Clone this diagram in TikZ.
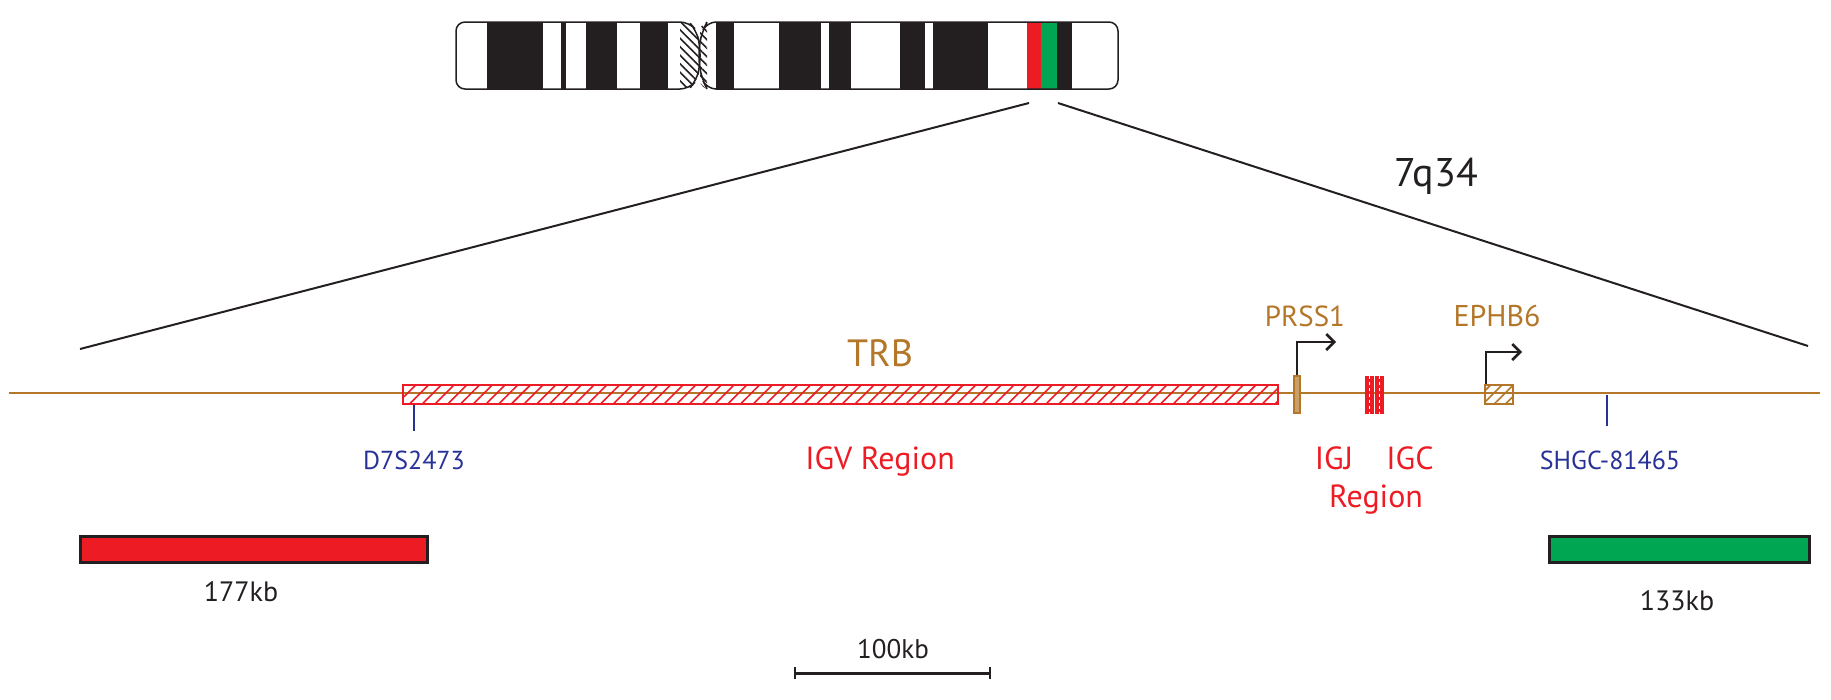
\documentclass[tikz,border=0pt]{standalone}
\usepackage{fontspec}
\setmainfont{PT Sans}
\usetikzlibrary{patterns.meta,arrows.meta}
\definecolor{brn}{RGB}{180,118,40}
\definecolor{rd}{RGB}{237,28,36}
\definecolor{gr}{RGB}{0,166,81}
\definecolor{bl}{RGB}{40,50,150}
\definecolor{blk}{RGB}{35,31,32}
\begin{document}
\begin{tikzpicture}[x=1pt,y=-1pt,
  lbl/.style={inner sep=0pt,anchor=base},
  zline/.style={draw=blk,line width=2pt},
  hatchr/.style={pattern={Lines[angle=45,distance=9pt,line width=1.6pt]},pattern color=rd},
  hatchb/.style={pattern={Lines[angle=45,distance=8pt,line width=1.6pt]},pattern color=brn},
  hatchk/.style={pattern={Lines[angle=-45,distance=6pt,line width=1.6pt]},pattern color=blk},
  tss/.style={draw=blk,line width=2.5pt,-{Straight Barb[length=8pt,width=16pt,line width=2.5pt]}}]
\useasboundingbox (0,0) rectangle (1831,699);
% chromosome
\def\yt{22}\def\yb{89}
\begin{scope}
\clip[rounded corners=9pt] (456,\yt) -- (689,\yt) -- (700,35) -- (700,76) -- (689,\yb) -- (456,\yb) -- cycle;
\foreach \a/\b in {487/543,561/566,586/617,640/668}
  \fill[blk] (\a,\yt) rectangle (\b,\yb);
\fill[hatchk] (680,\yt) rectangle (700,\yb);
\end{scope}
\draw[blk,line width=1.5pt,rounded corners=9pt] (456,\yt) -- (689,\yt) -- (696,30) -- (700,45) -- (700,66) -- (696,81) -- (689,\yb) -- (456,\yb) -- cycle;
\begin{scope}
\clip[rounded corners=9pt] (700,\yt) -- (1118,\yt) -- (1118,\yb) -- (700,\yb) -- cycle;
\fill[hatchk] (699,\yt) rectangle (707,\yb);
\foreach \a/\b in {716/734,779/821,829/851,900/925,933/988,1057/1072}
  \fill[blk] (\a,\yt) rectangle (\b,\yb);
\fill[rd] (1027,\yt) rectangle (1041,\yb);
\fill[gr] (1041,\yt) rectangle (1057,\yb);
\end{scope}
\draw[blk,line width=1.5pt,rounded corners=9pt] (707,\yt) -- (1118,\yt) -- (1118,\yb) -- (707,\yb) -- (703,81) -- (699,66) -- (699,45) -- (703,30) -- cycle;
\coordinate (cl) at (1029,103);
\coordinate (cr) at (1058,103);
\coordinate (zl) at (80,349);
\coordinate (zr) at (1808,346);
\draw[zline] (cl) -- (zl);
\draw[zline] (cr) -- (zr);
\node[lbl,font=\fontsize{40}{42}\selectfont,text=blk] (band) at (1436,186) {7q34};
% main line
\coordinate (la) at (9,393);
\coordinate (lb) at (1820,393);
\draw[brn,line width=2.5pt] (la) -- (lb);
\node[draw=rd,line width=2pt,hatchr,minimum width=875pt,minimum height=19pt,inner sep=0pt] (trb) at (840,394) {};
\node[lbl,text=brn,font=\fontsize{38}{40}\selectfont] (trbl) at (880,366) {TRB};
\node[lbl,text=rd,font=\fontsize{32}{34}\selectfont] (igv) at (880,469) {IGV Region};
% D7S2473
\coordinate (d1) at (414,405); \coordinate (d2) at (414,431);
\draw[bl,line width=2.5pt] (d1) -- (d2);
\node[lbl,text=bl,font=\fontsize{26}{28}\selectfont] (dl) at (414,469) {D7S2473};
% PRSS1
\node[draw=brn,fill=brn!70,line width=1.8pt,minimum width=6pt,minimum height=37pt,inner sep=0pt] (prss) at (1297,394.5) {};
\draw[tss] (prss.north) |- (1336,342);
\node[lbl,text=brn,font=\fontsize{29}{31}\selectfont] (prl) at (1305,326) {PRSS1};
% IGJ IGC
\node[draw=rd,fill=rd,line width=1pt,minimum width=8pt,minimum height=37pt,inner sep=0pt] (igj) at (1369,394.5) {};
\node[draw=rd,fill=rd,line width=1pt,minimum width=8pt,minimum height=37pt,inner sep=0pt] (igc) at (1379,394.5) {};
\draw[white,dashed,line width=0.8pt] (igj.north) -- (igj.south) (igc.north) -- (igc.south);
\node[lbl,text=rd,font=\fontsize{32}{34}\selectfont] (igjl) at (1334,469) {IGJ};
\node[lbl,text=rd,font=\fontsize{32}{34}\selectfont] (igcl) at (1410,469) {IGC};
\node[lbl,text=rd,font=\fontsize{32}{34}\selectfont] (regl) at (1376,507) {Region};
% EPHB6
\node[draw=brn,fill=white,hatchb,line width=2pt,minimum width=28pt,minimum height=19pt,inner sep=0pt] (eph) at (1499,394) {};
\draw[tss] ([xshift=-13pt]eph.north) |- (1522,352);
\node[lbl,text=brn,font=\fontsize{30}{32}\selectfont] (epl) at (1497,326) {EPHB6};
% SHGC
\coordinate (s1) at (1607,395); \coordinate (s2) at (1607,426);
\draw[bl,line width=2.5pt] (s1) -- (s2);
\node[lbl,text=bl,font=\fontsize{26}{28}\selectfont] (sl) at (1610,469) {SHGC-81465};
% bars
\node[draw=blk,fill=rd,line width=3pt,minimum width=347pt,minimum height=26pt,inner sep=0pt] (rbar) at (253.5,549) {};
\node[lbl,text=blk,font=\fontsize{28}{30}\selectfont] (rkb) at (241,601) {177kb};
\node[draw=blk,fill=gr,line width=3pt,minimum width=260pt,minimum height=26pt,inner sep=0pt] (gbar) at (1679,549) {};
\node[lbl,text=blk,font=\fontsize{28}{30}\selectfont] (gkb) at (1677,610) {133kb};
% scale bar
\coordinate (sa) at (795,673); \coordinate (sb) at (990,673);
\draw[blk,line width=3pt] (sa) -- (sb);
\draw[blk,line width=2.5pt] ([yshift=-6pt]sa) -- ([yshift=6pt]sa) ([yshift=-6pt]sb) -- ([yshift=6pt]sb);
\node[lbl,text=blk,font=\fontsize{27}{29}\selectfont] (skb) at (893,658) {100kb};
\end{tikzpicture}
\end{document}
